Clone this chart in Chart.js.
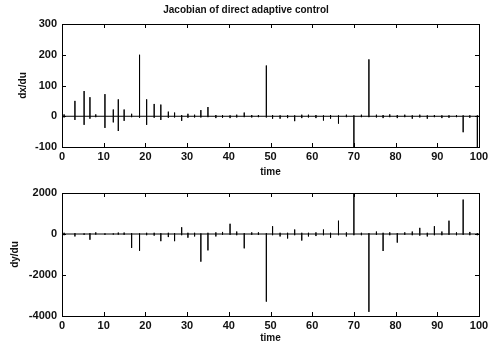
<!DOCTYPE html>
<html lang="en">
<head>
  <meta charset="UTF-8">
  <title>Jacobian of direct adaptive control</title>
  <style>
    body {
      margin: 0;
      padding: 0;
      background-color: #fff;
    }
    .panel {
      position: absolute;
      left: 0;
      width: 494px;
    }
    #top-panel { top: 0; height: 180px; }
    #bottom-panel { top: 180px; height: 164px; }
  </style>
</head>
<body>
  <div class="panel" id="top-panel"><canvas id="dx-chart"></canvas></div>
  <div class="panel" id="bottom-panel"><canvas id="dy-chart"></canvas></div>

  <script src="https://cdn.jsdelivr.net/npm/chart.js"></script>
  <script>
    // sample times
    const times = [0, 0.5, 3.1, 5.3, 6.7, 8.1, 10.3, 12.3, 13.5, 14.9, 16.7, 18.6, 20.3, 22.1, 23.7,
      25.5, 27.0, 28.7, 30.2, 31.8, 33.3, 35.0, 36.9, 38.5, 40.3, 41.9, 43.7, 45.5, 47.1, 49.0,
      50.5, 52.3, 54.1, 55.8, 57.5, 59.1, 60.9, 62.7, 64.4, 66.3, 68.2, 70.0, 71.8, 73.6, 75.4,
      77.0, 78.6, 80.4, 82.2, 84.0, 85.8, 87.6, 89.3, 91.1, 92.8, 94.6, 96.2, 97.8, 99.6, 100];

    // dx/du: upper and lower extent of each spike
    const dxHigh = [0, 6, 50, 82, 62, 6, 72, 22, 55, 22, 8, 200, 55, 40, 38,
      15, 12, 4, 8, 5, 20, 30, 4, 4, 3, 5, 12, 4, 4, 165,
      4, 3, 4, 3, 5, 5, 4, 3, 4, 3, 5, 3, 5, 185, 5,
      4, 6, 4, 5, 3, 5, 3, 4, 3, 3, 4, 3, 3, 3, 0];
    const dxLow = [0, -4, -12, -28, -8, -3, -38, -20, -48, -15, -3, -5, -28, -5, -12,
      -5, -4, -15, -5, -4, -4, -3, -6, -5, -6, -4, -3, -4, -3, -4,
      -8, -8, -6, -16, -6, -4, -6, -14, -8, -24, -3, -100, -3, -3, -4,
      -6, -3, -6, -3, -8, -4, -8, -3, -6, -5, -3, -52, -5, -100, 0];

    // dy/du
    const dyHigh = [0, 60, 40, 30, 40, 80, 30, 30, 70, 70, 40, 30, 60, 60, 40,
      60, 40, 330, 60, 60, 30, 60, 80, 100, 500, 120, 40, 80, 80, 40,
      380, 60, 60, 220, 60, 60, 80, 220, 60, 650, 80, 1980, 60, 40, 120,
      60, 80, 40, 80, 120, 300, 60, 380, 120, 650, 80, 1680, 100, 40, 0];
    const dyLow = [0, -60, -120, -40, -280, -30, -40, -30, -30, -40, -680, -820, -60, -80, -350,
      -150, -350, -60, -180, -120, -1350, -800, -120, -40, -40, -60, -700, -40, -40, -3300,
      -60, -120, -220, -60, -320, -120, -100, -60, -180, -60, -120, -60, -60, -3800, -40,
      -830, -60, -420, -40, -60, -80, -120, -60, -60, -40, -60, -40, -60, -60, 0];

    const xTicks = [0, 10, 20, 30, 40, 50, 60, 70, 80, 90, 100];
    const dxTicks = [-100, 0, 100, 200, 300];
    const dyTicks = [-4000, -2000, 0, 2000];

    // turn each sample into a vertical stroke on the zero line
    function stemPoints(hi, lo) {
      const pts = [];
      times.forEach((t, i) => {
        pts.push({ x: t, y: 0 }, { x: t, y: hi[i] }, { x: t, y: lo[i] }, { x: t, y: 0 });
      });
      return pts;
    }

    // MATLAB style box with inward ticks
    const boxPlugin = {
      id: 'box',
      afterDatasetsDraw(chart) {
        const { ctx, chartArea: a, scales } = chart;
        ctx.save();
        ctx.strokeStyle = '#000';
        ctx.lineWidth = 1;
        ctx.strokeRect(Math.round(a.left) + 0.5, Math.round(a.top) + 0.5,
          Math.round(a.right - a.left), Math.round(a.bottom - a.top));
        ctx.beginPath();
        scales.x.ticks.forEach(tk => {
          const px = Math.round(scales.x.getPixelForValue(tk.value)) + 0.5;
          ctx.moveTo(px, a.bottom); ctx.lineTo(px, a.bottom - 4);
          ctx.moveTo(px, a.top); ctx.lineTo(px, a.top + 4);
        });
        scales.y.ticks.forEach(tk => {
          const py = Math.round(scales.y.getPixelForValue(tk.value)) + 0.5;
          ctx.moveTo(a.left, py); ctx.lineTo(a.left + 4, py);
          ctx.moveTo(a.right, py); ctx.lineTo(a.right - 4, py);
        });
        ctx.stroke();
        ctx.restore();
      }
    };

    const tickFont = { family: 'Liberation Sans', size: 11, weight: 'bold' };
    const labelFont = { family: 'Liberation Sans', size: 10, weight: 'bold' };

    function makeChart(id, hi, lo, yTicks, yLabel, opts) {
      return new Chart(document.getElementById(id), {
        type: 'scatter',
        data: {
          datasets: [{
            data: stemPoints(hi, lo),
            showLine: true,
            borderColor: '#000',
            borderWidth: 1,
            pointRadius: 0,
            tension: 0
          }]
        },
        options: {
          responsive: true,
          maintainAspectRatio: false,
          animation: false,
          layout: { padding: opts.padding },
          plugins: {
            legend: { display: false },
            tooltip: { enabled: false },
            title: opts.title
          },
          scales: {
            x: {
              type: 'linear',
              min: 0,
              max: 100,
              afterBuildTicks: s => { s.ticks = xTicks.map(v => ({ value: v })); },
              afterFit: s => { s.height = opts.xHeight; },
              grid: { display: false, drawTicks: false },
              border: { display: false },
              ticks: { color: '#111', font: tickFont, padding: 3, maxRotation: 0,
                callback: v => String(v) },
              title: { display: true, text: 'time', color: '#111', font: labelFont,
                padding: { top: 0, bottom: opts.xTitleBottom } }
            },
            y: {
              min: yTicks[0],
              max: yTicks[yTicks.length - 1],
              afterBuildTicks: s => { s.ticks = yTicks.map(v => ({ value: v })); },
              afterFit: s => { s.width = opts.yWidth; },
              grid: { display: false, drawTicks: false },
              border: { display: false },
              ticks: { color: '#111', font: tickFont, padding: 5,
                callback: v => String(v) },
              title: { display: true, text: yLabel, color: '#111', font: labelFont,
                padding: { top: 4, bottom: 4 } }
            }
          }
        },
        plugins: [boxPlugin]
      });
    }

    makeChart('dx-chart', dxHigh, dxLow, dxTicks, 'dx/du', {
      padding: { left: 13, right: 15, top: 0, bottom: 0 },
      yWidth: 49,
      xHeight: 33,
      xTitleBottom: 2,
      title: {
        display: true,
        text: 'Jacobian of direct adaptive control',
        color: '#111',
        font: labelFont,
        padding: { top: 4, bottom: 8 }
      }
    });

    makeChart('dy-chart', dyHigh, dyLow, dyTicks, 'dy/du', {
      padding: { left: 5, right: 15, top: 13, bottom: 0 },
      yWidth: 57,
      xHeight: 28,
      xTitleBottom: 0,
      title: { display: false }
    });
  </script>
</body>
</html>
